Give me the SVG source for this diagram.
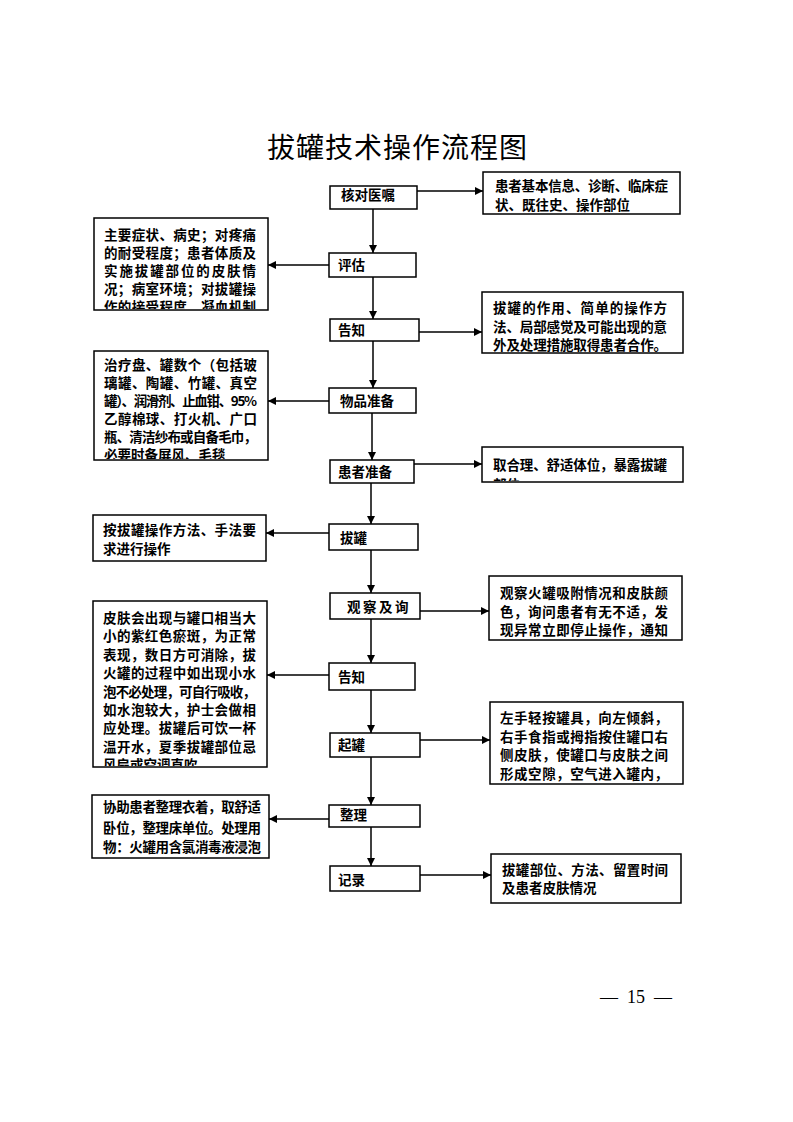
<svg xmlns="http://www.w3.org/2000/svg" width="793" height="1122" viewBox="0 0 793 1122">
<style>
.box{fill:#fff;stroke:#000;stroke-width:1.5}
.t{font-family:"Noto Sans CJK SC","Noto Sans CJK JP",sans-serif;font-size:13.5px;font-weight:bold;fill:#000}
.lb{font-family:"Noto Sans CJK SC","Noto Sans CJK JP",sans-serif;font-size:13.5px;font-weight:bold;fill:#000}
.title{font-family:"Noto Sans CJK SC","Noto Sans CJK JP",sans-serif;font-size:28px;fill:#000}
.pg{font-family:"Liberation Serif",serif;font-size:18px;fill:#000}
.conn line{stroke:#000;stroke-width:1.5}
</style>
<defs>
<marker id="ah" viewBox="0 0 10 10" refX="10" refY="5" markerWidth="9" markerHeight="8" markerUnits="userSpaceOnUse" orient="auto">
<path d="M0,0 L10,5 L0,10 z" fill="#000"/>
</marker>
<clipPath id="c1"><rect x="95" y="219" width="172" height="90"/></clipPath>
<clipPath id="c3"><rect x="95" y="352" width="172" height="107"/></clipPath>
<clipPath id="c4"><rect x="483" y="448" width="199" height="33"/></clipPath>
<clipPath id="c6"><rect x="94" y="602" width="172" height="164"/></clipPath>
</defs>

<rect width="793" height="1122" fill="#fff"/>

<text class="title" x="267" y="158" letter-spacing="1">拔罐技术操作流程图</text>

<g id="n1"><rect class="box" x="330" y="186" width="87" height="23"/><text class="lb" x="341" y="200">核对医嘱</text></g>
<g id="r1"><rect class="box" x="483" y="172" width="197" height="42"/>
<text class="t" x="495" y="191" textLength="173" lengthAdjust="spacing">患者基本信息、诊断、临床症</text>
<text class="t" x="495" y="210">状、既往史、操作部位</text></g>

<g id="n2"><rect class="box" x="329" y="253" width="87" height="24"/><text class="lb" x="338" y="270">评估</text></g>
<g id="l1"><rect class="box" x="94" y="218" width="174" height="92"/>
<g clip-path="url(#c1)">
<text class="t" x="104" y="240" textLength="152" lengthAdjust="spacing">主要症状、病史；对疼痛</text>
<text class="t" x="104" y="258" textLength="152" lengthAdjust="spacing">的耐受程度；患者体质及</text>
<text class="t" x="104" y="276" textLength="152" lengthAdjust="spacing">实施拔罐部位的皮肤情</text>
<text class="t" x="104" y="294" textLength="152" lengthAdjust="spacing">况；病室环境；对拔罐操</text>
<text class="t" x="104" y="312" textLength="152" lengthAdjust="spacing">作的接受程度、凝血机制</text>
</g></g>

<g id="n3"><rect class="box" x="330" y="319" width="89" height="22"/><text class="lb" x="338" y="335">告知</text></g>
<g id="r2"><rect class="box" x="482" y="292" width="201" height="61"/>
<text class="t" x="493" y="313" textLength="174" lengthAdjust="spacing">拔罐的作用、简单的操作方</text>
<text class="t" x="493" y="332" textLength="174" lengthAdjust="spacing">法、局部感觉及可能出现的意</text>
<text class="t" x="493" y="350" textLength="174" lengthAdjust="spacing">外及处理措施取得患者合作。</text></g>

<g id="n4"><rect class="box" x="329" y="388" width="87" height="25"/><text class="lb" x="340" y="406">物品准备</text></g>
<g id="l2"><rect class="box" x="94" y="351" width="174" height="109"/>
<g clip-path="url(#c3)">
<text class="t" x="104" y="370" textLength="153" lengthAdjust="spacing">治疗盘、罐数个（包括玻</text>
<text class="t" x="104" y="388" textLength="153" lengthAdjust="spacing">璃罐、陶罐、竹罐、真空</text>
<text class="t" x="104" y="406" textLength="153" lengthAdjust="spacing">罐）、润滑剂、止血钳、95%</text>
<text class="t" x="104" y="424" textLength="153" lengthAdjust="spacing">乙醇棉球、打火机、广口</text>
<text class="t" x="104" y="442" textLength="153" lengthAdjust="spacing">瓶、清洁纱布或自备毛巾，</text>
<text class="t" x="104" y="460">必要时备屏风、毛毯</text>
</g></g>

<g id="n5"><rect class="box" x="330" y="460" width="84" height="23"/><text class="lb" x="338" y="477">患者准备</text></g>
<g id="r3"><rect class="box" x="482" y="447" width="201" height="35"/>
<g clip-path="url(#c4)">
<text class="t" x="493" y="470" textLength="174" lengthAdjust="spacing">取合理、舒适体位，暴露拔罐</text>
<text class="t" x="493" y="490">部位</text>
</g></g>

<g id="n6"><rect class="box" x="329" y="524" width="89" height="26"/><text class="lb" x="340" y="543">拔罐</text></g>
<g id="l3"><rect class="box" x="93" y="515" width="173" height="46"/>
<text class="t" x="103" y="535" textLength="153" lengthAdjust="spacing">按拔罐操作方法、手法要</text>
<text class="t" x="103" y="554">求进行操作</text></g>

<g id="n7"><rect class="box" x="330" y="593" width="90" height="26"/><text class="lb" x="347" y="612" letter-spacing="2.5">观察及询</text></g>
<g id="r4"><rect class="box" x="489" y="576" width="193" height="64"/>
<text class="t" x="500" y="598" textLength="168" lengthAdjust="spacing">观察火罐吸附情况和皮肤颜</text>
<text class="t" x="500" y="617" textLength="168" lengthAdjust="spacing">色，询问患者有无不适，发</text>
<text class="t" x="500" y="635" textLength="168" lengthAdjust="spacing">现异常立即停止操作，通知</text></g>

<g id="n8"><rect class="box" x="329" y="663" width="86" height="27"/><text class="lb" x="338" y="682">告知</text></g>
<g id="l4"><rect class="box" x="93" y="601" width="174" height="166"/>
<g clip-path="url(#c6)">
<text class="t" x="103" y="623" textLength="153" lengthAdjust="spacing">皮肤会出现与罐口相当大</text>
<text class="t" x="103" y="641" textLength="153" lengthAdjust="spacing">小的紫红色瘀斑，为正常</text>
<text class="t" x="103" y="660" textLength="153" lengthAdjust="spacing">表现，数日方可消除，拔</text>
<text class="t" x="103" y="678" textLength="153" lengthAdjust="spacing">火罐的过程中如出现小水</text>
<text class="t" x="103" y="697" textLength="153" lengthAdjust="spacing">泡不必处理，可自行吸收，</text>
<text class="t" x="103" y="715" textLength="153" lengthAdjust="spacing">如水泡较大，护士会做相</text>
<text class="t" x="103" y="733" textLength="153" lengthAdjust="spacing">应处理。拔罐后可饮一杯</text>
<text class="t" x="103" y="752" textLength="153" lengthAdjust="spacing">温开水，夏季拔罐部位忌</text>
<text class="t" x="103" y="770">风扇或空调直吹</text>
</g></g>

<g id="n9"><rect class="box" x="330" y="733" width="90" height="24"/><text class="lb" x="338" y="750">起罐</text></g>
<g id="r5"><rect class="box" x="490" y="702" width="193" height="82"/>
<text class="t" x="500" y="723" textLength="168" lengthAdjust="spacing">左手轻按罐具，向左倾斜，</text>
<text class="t" x="500" y="742" textLength="168" lengthAdjust="spacing">右手食指或拇指按住罐口右</text>
<text class="t" x="500" y="760" textLength="168" lengthAdjust="spacing">侧皮肤，使罐口与皮肤之间</text>
<text class="t" x="500" y="779" textLength="168" lengthAdjust="spacing">形成空隙，空气进入罐内，</text></g>

<g id="n10"><rect class="box" x="329" y="805" width="91" height="22"/><text class="lb" x="340" y="820">整理</text></g>
<g id="l5"><rect class="box" x="92" y="795" width="177" height="63"/>
<text class="t" x="103" y="812" textLength="158" lengthAdjust="spacing">协助患者整理衣着，取舒适</text>
<text class="t" x="103" y="833" textLength="158" lengthAdjust="spacing">卧位，整理床单位。处理用</text>
<text class="t" x="103" y="852" textLength="158" lengthAdjust="spacing">物：火罐用含氯消毒液浸泡</text></g>

<g id="n11"><rect class="box" x="330" y="866" width="90" height="25"/><text class="lb" x="338" y="885">记录</text></g>
<g id="r6"><rect class="box" x="491" y="854" width="190" height="49"/>
<text class="t" x="502" y="875" textLength="166" lengthAdjust="spacing">拔罐部位、方法、留置时间</text>
<text class="t" x="502" y="893">及患者皮肤情况</text></g>

<g id="connectors" class="conn">
<line x1="373" y1="209" x2="373" y2="253" marker-end="url(#ah)"/>
<line x1="373" y1="277" x2="373" y2="319" marker-end="url(#ah)"/>
<line x1="373" y1="341" x2="373" y2="388" marker-end="url(#ah)"/>
<line x1="372" y1="413" x2="372" y2="460" marker-end="url(#ah)"/>
<line x1="371" y1="483" x2="371" y2="524" marker-end="url(#ah)"/>
<line x1="371" y1="550" x2="371" y2="593" marker-end="url(#ah)"/>
<line x1="371" y1="619" x2="371" y2="663" marker-end="url(#ah)"/>
<line x1="371" y1="690" x2="371" y2="733" marker-end="url(#ah)"/>
<line x1="371" y1="757" x2="371" y2="805" marker-end="url(#ah)"/>
<line x1="371" y1="827" x2="371" y2="866" marker-end="url(#ah)"/>
<line x1="417" y1="191" x2="483" y2="191" marker-end="url(#ah)"/>
<line x1="329" y1="265" x2="268" y2="265" marker-end="url(#ah)"/>
<line x1="419" y1="332" x2="482" y2="332" marker-end="url(#ah)"/>
<line x1="329" y1="401" x2="268" y2="401" marker-end="url(#ah)"/>
<line x1="414" y1="464" x2="482" y2="464" marker-end="url(#ah)"/>
<line x1="329" y1="533" x2="266" y2="533" marker-end="url(#ah)"/>
<line x1="420" y1="611" x2="489" y2="611" marker-end="url(#ah)"/>
<line x1="329" y1="675" x2="267" y2="675" marker-end="url(#ah)"/>
<line x1="420" y1="740" x2="490" y2="740" marker-end="url(#ah)"/>
<line x1="329" y1="819" x2="269" y2="819" marker-end="url(#ah)"/>
<line x1="420" y1="875" x2="491" y2="875" marker-end="url(#ah)"/>
</g>

<text class="pg" x="636" y="1003" text-anchor="middle" xml:space="preserve">—  15  —</text>
</svg>
